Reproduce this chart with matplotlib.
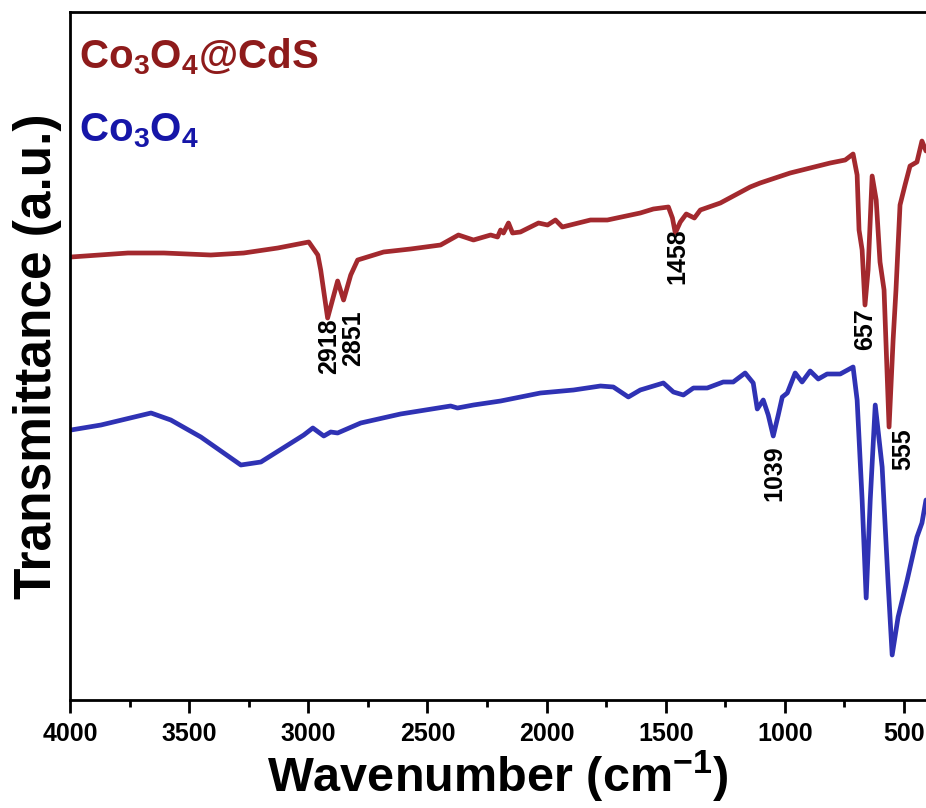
import matplotlib
matplotlib.use("Agg")
import matplotlib.pyplot as plt

# ---------------- data ----------------
# Co3O4@CdS (upper, red)
cds_wn = [3996, 3757, 3606, 3409, 3271, 3128, 2998, 2960, 2948, 2919, 2877, 2852,
          2822, 2793, 2684, 2571, 2445, 2370, 2307, 2235, 2206, 2193, 2181, 2160,
          2143, 2110, 2068, 2034, 1996, 1963, 1934, 1816, 1745, 1607, 1552, 1489,
          1472, 1460, 1439, 1414, 1380, 1355, 1271, 1146, 1104, 978, 894, 810,
          747, 714, 697, 689, 676, 664, 651, 634, 617, 601, 584, 563, 546, 534,
          517, 496, 475, 446, 425, 408]
cds_t = [443, 447, 447, 445, 447, 452, 458, 445, 430, 382, 419, 400,
         425, 440, 448, 451, 455, 465, 460, 465, 463, 470, 467, 477,
         467, 468, 473, 477, 475, 480, 473, 480, 480, 487, 491, 493,
         482, 467, 478, 486, 482, 490, 497, 513, 517, 527, 532, 537,
         540, 546, 525, 470, 450, 395, 430, 524, 500, 438, 410, 273, 360, 410,
         495, 515, 534, 538, 559, 549]

# Co3O4 (lower, blue)
co_wn = [3996, 3870, 3660, 3577, 3451, 3283, 3199, 3019, 2981, 2935, 2906, 2877,
         2780, 2613, 2403, 2374, 2307, 2193, 2026, 1887, 1774, 1720, 1657, 1607,
         1510, 1468, 1426, 1384, 1326, 1259, 1217, 1167, 1133, 1116, 1091, 1070,
         1049, 1028, 1011, 990, 957, 928, 894, 860, 823, 768, 714, 697, 676,
         659, 642, 621, 592, 567, 550, 525, 487, 446, 425, 408]
co_t = [270, 275, 287, 280, 263, 235, 238, 265, 272, 264, 268, 267,
        277, 286, 294, 292, 295, 299, 307, 310, 314, 313, 303, 310,
        317, 308, 305, 312, 312, 318, 318, 327, 317, 291, 300, 285,
        264, 285, 303, 307, 327, 318, 329, 321, 326, 326, 333, 300, 200,
        102, 200, 295, 233, 117, 45, 83, 120, 163, 177, 200]

peak_labels = ["2918", "2851", "1458", "657", "555", "1039"]
peak_wn = [2914, 2814, 1452, 664, 504, 1045]
peak_top = [382, 390, 472, 392, 272, 255]

# ---------------- style ----------------
plt.rcParams["font.family"] = ["Liberation Sans", "DejaVu Sans"]
plt.rcParams["font.weight"] = "bold"
plt.rcParams["mathtext.fontset"] = "custom"
plt.rcParams["mathtext.rm"] = "Liberation Sans:bold"
plt.rcParams["mathtext.bf"] = "Liberation Sans:bold"
plt.rcParams["mathtext.it"] = "Liberation Sans:bold"
plt.rcParams["mathtext.sf"] = "Liberation Sans:bold"

red = "#A3292E"
blue = "#2F32B4"
red_txt = "#8E1B1B"
blue_txt = "#1616A8"

fig = plt.figure(figsize=(9.26, 8.08), dpi=100)
ax = fig.add_axes([70 / 926, 108 / 808, 1 - 70 / 926, (700 - 12) / 808])

ax.plot(cds_wn, cds_t, color=red, lw=3.4, solid_joinstyle="round", solid_capstyle="round")
ax.plot(co_wn, co_t, color=blue, lw=3.4, solid_joinstyle="round", solid_capstyle="round")

ax.set_xlim(4000, 408)
ax.set_ylim(0, 688)
ax.set_xticks([4000, 3500, 3000, 2500, 2000, 1500, 1000, 500])
ax.set_xticks([3750, 3250, 2750, 2250, 1750, 1250, 750], minor=True)
ax.set_yticks([])
ax.tick_params(axis="x", which="major", direction="out", length=9, width=2, pad=7,
               labelsize=18)
ax.tick_params(axis="x", which="minor", direction="out", length=5, width=2)
for lbl in ax.get_xticklabels():
    lbl.set_fontweight("bold")

for s in ["left", "bottom", "top"]:
    ax.spines[s].set_linewidth(2)
ax.spines["right"].set_visible(False)

ax.set_xlabel("Wavenumber (cm$^{-1}$)", fontsize=35, fontweight="bold", labelpad=2)
ax.set_ylabel("Transmittance (a.u.)", fontsize=37, fontweight="bold", labelpad=6)

ax.text(0.010, 0.965, "Co$_{3}$O$_{4}$@CdS", transform=ax.transAxes,
        color=red_txt, fontsize=29, fontweight="bold", va="top", ha="left")
ax.text(0.010, 0.855, "Co$_{3}$O$_{4}$", transform=ax.transAxes,
        color=blue_txt, fontsize=29, fontweight="bold", va="top", ha="left")

for lab, w, t in zip(peak_labels, peak_wn, peak_top):
    ax.text(w, t, lab, rotation=90, ha="center", va="top", fontsize=18,
            fontweight="bold", color="black")

fig.savefig("out.png", dpi=100)
